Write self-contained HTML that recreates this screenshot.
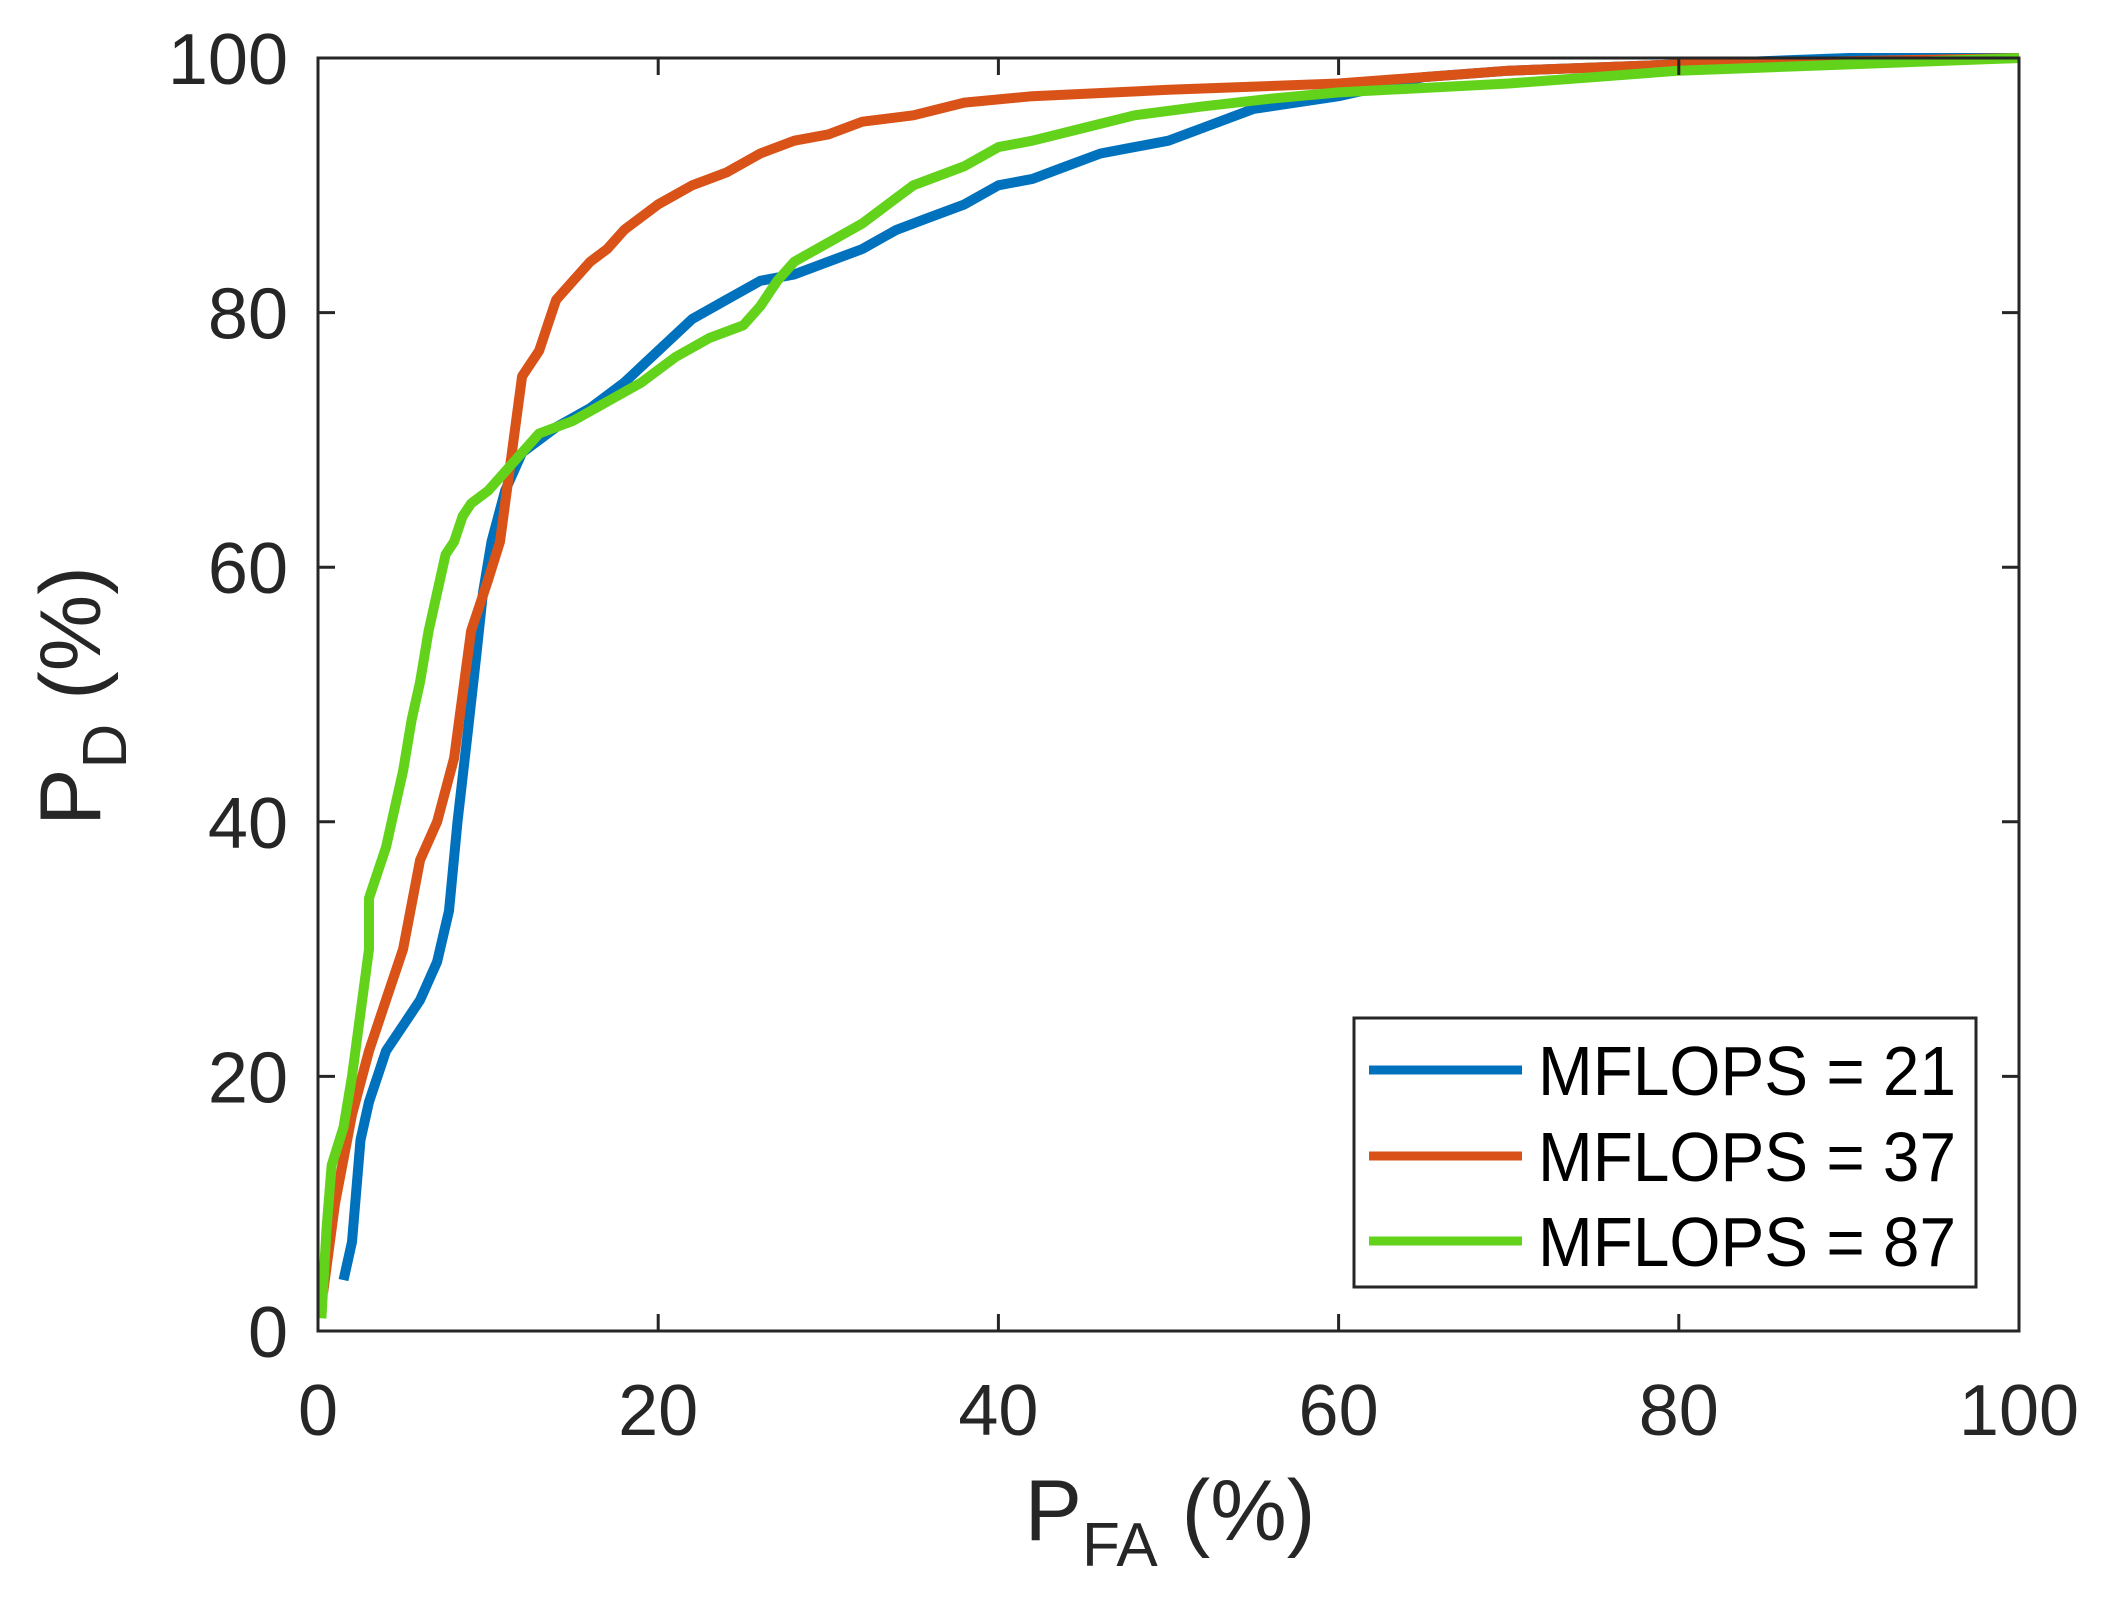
<!DOCTYPE html>
<html><head><meta charset="utf-8"><style>
html,body{margin:0;padding:0;background:#fff;}
svg{display:block;font-family:"Liberation Sans",Arial,sans-serif;}
</style></head><body>
<svg id="chart" width="2111" height="1612" viewBox="0 0 2111 1612" xmlns="http://www.w3.org/2000/svg">
<g id="plot"></g>
<g id="axes"></g>
<text x="1170" y="1540" font-size="86" fill="#262626" text-anchor="middle">P<tspan font-size="62" dy="26">FA</tspan><tspan dy="-26"> (%)</tspan></text>
<text transform="translate(100,696) rotate(-90)" font-size="86" fill="#262626" text-anchor="middle">P<tspan font-size="62" dy="26">D</tspan><tspan dy="-26"> (%)</tspan></text>
<g id="legend"></g>
</svg>
<script>
const xTicks=[0,20,40,60,80,100];
const yTicks=[0,20,40,60,80,100];
const seriesNames=["MFLOPS = 21","MFLOPS = 37","MFLOPS = 87"];
const colors=["#0072BD","#D95319","#62D31A"];
const blueX=[1.5,2,2.5,3,4,5,6,7,7.7,8.2,8.8,9.3,9.7,10.2,11,12,14,16,18,20,22,24,26,28,30,32,34,36,38,40,42,44,46,48,50,52,55,60,65,70,80,90,100];
const blueY=[4,7,15,18,22,24,26,29,33,40,47,53,58,62,66,69,71,72.5,74.5,77,79.5,81,82.5,83,84,85,86.5,87.5,88.5,90,90.5,91.5,92.5,93,93.5,94.5,96,97,98.5,99,99.5,100,100];
const redX=[0.3,1,2,3,4,5,6,7,8,8.5,9,10,10.7,11.2,11.7,12,13,13.5,14,15,16,17,18,20,22,24,26,28,30,32,35,38,42,50,60,70,80,100];
const redY=[3,10,17,22,26,30,37,40,45,50,55,59,62,67,72,75,77,79,81,82.5,84,85,86.5,88.5,90,91,92.5,93.5,94,95,95.5,96.5,97,97.5,98,99,99.5,100];
const greenX=[0.2,0.5,0.8,1.5,2,2.5,3,3,3.5,4,4.5,5,5.5,6,6.5,7,7.5,8,8.5,9,10,11,12,13,15,17,19,21,23,25,26,27,28,30,32,34,35,37,38,40,42,45,48,52,56,60,70,80,90,100];
const greenY=[1,8,13,16,20,25,30,34,36,38,41,44,48,51,55,58,61,62,64,65,66,67.5,69,70.5,71.5,73,74.5,76.5,78,79,80.5,82.5,84,85.5,87,89,90,91,91.5,93,93.5,94.5,95.5,96.2,96.8,97.3,98,99,99.5,100];

const L=318,R=2019,T=58,B=1331;
const sx=v=>L+(R-L)*v/100, sy=v=>B-(B-T)*v/100;
const NS="http://www.w3.org/2000/svg";
function mk(tag,attrs,parent){const e=document.createElementNS(NS,tag);for(const k in attrs)e.setAttribute(k,attrs[k]);parent.appendChild(e);return e;}
const plot=document.getElementById('plot'),axes=document.getElementById('axes'),leg=document.getElementById('legend');
const data=[[blueX,blueY],[redX,redY],[greenX,greenY]];
const lineNames=['line-mflops-21','line-mflops-37','line-mflops-87'];
data.forEach((d,i)=>{
  const pts=d[0].map((x,j)=>sx(x).toFixed(1)+','+sy(d[1][j]).toFixed(1)).join(' ');
  const pl=mk('polyline',{points:pts,fill:'none',stroke:colors[i],'stroke-width':10,'stroke-linejoin':'round'},plot);
  
  
});
const box=mk('rect',{x:L,y:T,width:R-L,height:B-T,fill:'none',stroke:'#262626','stroke-width':3},axes);


xTicks.forEach(v=>{
  const x=sx(v);
  mk('line',{x1:x,y1:B,x2:x,y2:B-17,stroke:'#262626','stroke-width':3},axes);
  mk('line',{x1:x,y1:T,x2:x,y2:T+17,stroke:'#262626','stroke-width':3},axes);
  const t=mk('text',{x:x,y:B+104,'font-size':72,fill:'#262626','text-anchor':'middle'},axes);
  t.textContent=v;
  
  
});
yTicks.forEach(v=>{
  const y=sy(v);
  mk('line',{x1:L,y1:y,x2:L+17,y2:y,stroke:'#262626','stroke-width':3},axes);
  mk('line',{x1:R,y1:y,x2:R-17,y2:y,stroke:'#262626','stroke-width':3},axes);
  const t=mk('text',{x:288,y:y+26,'font-size':72,fill:'#262626','text-anchor':'end'},axes);
  t.textContent=v;
  
  
});
const lb=mk('rect',{x:1354,y:1018,width:622,height:269,fill:'#fff',stroke:'#262626','stroke-width':3},leg);


const rows=[1070,1156,1241];
seriesNames.forEach((n,i)=>{
  const g=mk('g',{},leg);
  
  
  mk('line',{x1:1369,y1:rows[i],x2:1522,y2:rows[i],stroke:colors[i],'stroke-width':9},g);
  const t=mk('text',{x:1538,y:rows[i]+25,'font-size':70,fill:'#000',textLength:418,lengthAdjust:'spacingAndGlyphs'},g);
  t.textContent=n;
});
</script>
</body></html>
